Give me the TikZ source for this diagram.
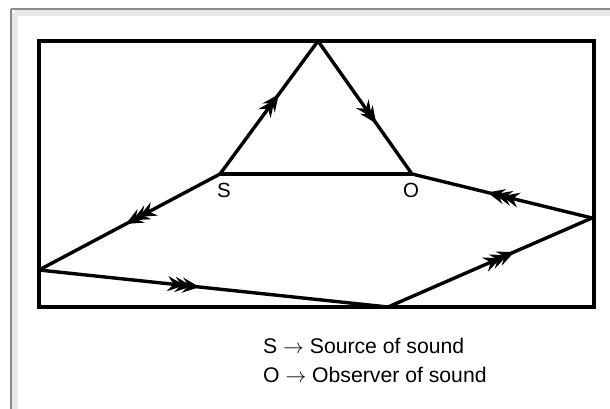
\documentclass[tikz,border=0pt]{standalone}
\usepackage{fontspec}
\setmainfont{Liberation Sans}
\usetikzlibrary{arrows.meta,decorations.markings}
\tikzset{
  ray/.style={line width=3.4pt, line join=miter},
  tipA/.tip={Stealth[length=17pt,width=15pt,inset=6pt]},
  dbl/.style={postaction={decorate,decoration={markings,
     mark=at position #1 with {\arrow{tipA}\arrow[xshift=-7pt]{tipA}}}}},
  trp/.style={postaction={decorate,decoration={markings,
     mark=at position #1 with {\arrow{tipA}\arrow[xshift=-7.5pt]{tipA}\arrow[xshift=-15pt]{tipA}}}}},
  lbl/.style={font=\fontsize{20.5}{24}\selectfont, inner sep=0pt},
  legend/.style={font=\fontsize{21.2}{24}\selectfont, inner sep=0pt, anchor=west}
}
\begin{document}
\begin{tikzpicture}[x=1pt,y=-1pt]
\useasboundingbox (0,0) rectangle (610,408);
% outer frame
\fill[white] (0,0) rectangle (610,408);
\draw[line width=6pt, black!9] (15,13) -- (614,13);
\draw[line width=6pt, black!9] (15,13) -- (15,412);
\draw[line width=1.2pt, black!45] (11,9) -- (614,9);
\draw[line width=1.2pt, black!45] (11,9) -- (11,412);
% room
\draw[line width=3.4pt] (39,41) rectangle (594,307);
% points
\coordinate (A) at (318,41);
\coordinate (S) at (220,174);
\coordinate (O) at (412,174);
\coordinate (L) at (39,270);
\coordinate (B) at (388,307);
\coordinate (R) at (592,218);
% rays
\draw[ray] (S) -- (O);
\draw[ray, dbl=0.6] (S) -- (A);
\draw[ray, dbl=0.62] (A) -- (O);
\draw[ray, trp=0.52] (S) -- (L);
\draw[ray, trp=0.46] (L) -- (B);
\draw[ray, trp=0.62] (B) -- (R);
\draw[ray, trp=0.58] (R) -- (O);
% labels
\node[lbl] (sl) at (224,190) {S};
\node[lbl] (ol) at (411,190) {O};
\node[legend] (l1) at (263,346) {S $\rightarrow$ Source of sound};
\node[legend] (l2) at (263,375) {O $\rightarrow$ Observer of sound};
\end{tikzpicture}
\end{document}
